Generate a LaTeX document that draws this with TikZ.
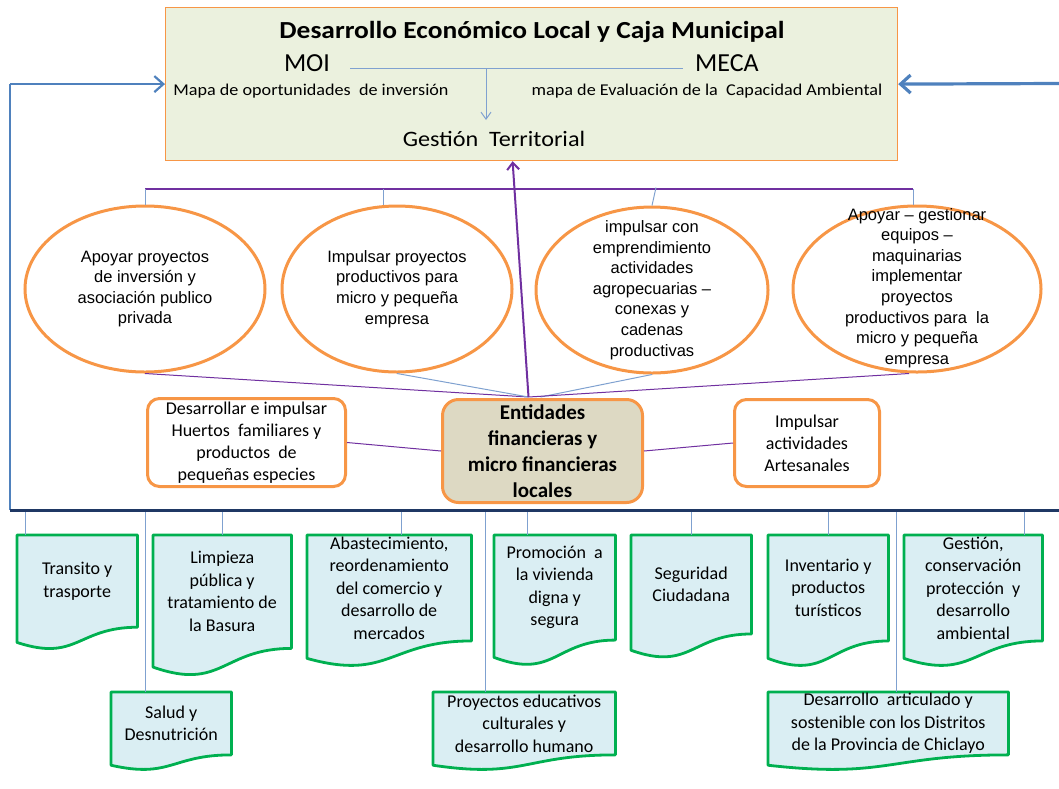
\documentclass[tikz,border=0pt]{standalone}
\usepackage{fontspec}
\setmainfont{Carlito}
\newfontfamily\calw[FakeStretch=1.1]{Carlito}
\newfontfamily\calt[FakeStretch=1.12]{Carlito}
\newfontfamily\arialf{Liberation Sans}
\usetikzlibrary{arrows.meta,calc,shapes.geometric}
\definecolor{topfill}{HTML}{EBF1DE}
\definecolor{orng}{HTML}{F79646}
\definecolor{blu}{HTML}{4F81BD}
\definecolor{lblu}{HTML}{7FA1D0}
\definecolor{purp}{HTML}{7030A0}
\definecolor{navy}{HTML}{1F3864}
\definecolor{docfill}{HTML}{DAEEF3}
\definecolor{docgreen}{HTML}{00B050}
\definecolor{entfill}{HTML}{DDD9C3}
\tikzset{
  topbox/.style={draw=orng, fill=topfill, line width=1.2, inner sep=0},
  ell/.style={ellipse, draw=orng, fill=white, line width=3, inner sep=0},
  elltext/.style={align=center, inner sep=0, font=\arialf\fontsize{16.5}{20.6}\selectfont},
  sidebox/.style={draw=orng, fill=white, line width=3, rounded corners=12, inner sep=0, align=center, font=\fontsize{18}{22}\selectfont},
  entbox/.style={draw=orng, fill=entfill, line width=3, rounded corners=16, inner sep=0, align=center, font=\bfseries\fontsize{21}{26}\selectfont},
  docframe/.style={inner sep=0, draw=none},
  docline/.style={fill=docfill, draw=docgreen, line width=2.8, line join=round},
  doctext/.style={align=center, inner sep=0, font=\fontsize{18}{22.5}\selectfont},
  dropline/.style={draw=lblu, line width=1},
  purpline/.style={draw=purp, line width=1},
  bluline/.style={draw=lblu, line width=1},
  busline/.style={draw=navy, line width=3},
  frameline/.style={draw=blu, line width=1.2},
  arrowline/.style={draw=blu, line width=2.2, -{Straight Barb[length=9,width=16,line width=2.2]}},
  bigarrow/.style={draw=blu, line width=3.2, -{Straight Barb[length=10,width=18,line width=3.2]}},
}
\newcommand\mydoc[6]{%
  \node[docframe, minimum width=#4, minimum height=#5, anchor=north west] (#1) at (#2,#3) {};
  \path[docline] (#1.north west) -- (#1.north east) -- ($(#1.north east)!0.802!(#1.south east)$)
     .. controls ($(#1.north)!0.802!(#1.south)$) and ($(#1.north)!1.107!(#1.south)$) ..
     ($(#1.north west)!0.934!(#1.south west)$) -- cycle;
  \node[doctext] at ($(#1.north)!0.40!(#1.south)$) {#6};
}
\newcommand\mydrop[2]{\draw[dropline] (#1.north west) ++(#2,0) coordinate (tmpd) -- (tmpd |- busL);}
\begin{document}
\begin{tikzpicture}[x=1pt,y=-1pt]
\useasboundingbox (0,0) rectangle (1059,788);
% top box
\node[topbox, minimum width=732, minimum height=153, anchor=north west] (top) at (165,7) {};
\node[anchor=base, inner sep=0, font=\calt\bfseries\fontsize{24.5}{29}\selectfont] (title) at (532,38) {Desarrollo Económico Local y Caja Municipal};
\node[anchor=base, inner sep=0, font=\fontsize{26}{30}\selectfont] (moi) at (307,71.5) {MOI};
\node[anchor=base, inner sep=0, font=\fontsize{26}{30}\selectfont] (meca) at (727,71.5) {MECA};
\node[anchor=base, inner sep=0, font=\calw\fontsize{16.5}{19}\selectfont] (mapa1) at (311,95.7) {Mapa de oportunidades\ \ de inversión};
\node[anchor=base, inner sep=0, font=\calw\fontsize{16.5}{19}\selectfont] (mapa2) at (707,95.7) {mapa de Evaluación de la\ \ Capacidad Ambiental};
\node[anchor=base, inner sep=0, font=\calw\fontsize{22}{26}\selectfont] (gest) at (494,146.7) {Gestión\ \ Territorial};
\coordinate (ml) at (350,68);
\coordinate (mr) at (683,68);
\coordinate (mm) at (486,68);
\draw[bluline] (ml) -- (mr);
\draw[bluline, -{Straight Barb[length=7,width=10]}] (mm) -- ++(0,52);
% frame and outer arrows
\coordinate (busL) at (10,510);
\coordinate (busR) at (1059,510);
\coordinate (rin) at (1059,83.5);
\draw[frameline] (busL) -- (busL |- top.west);
\draw[arrowline] (busL |- top.west) -- (top.west);
\draw[bigarrow] (rin) -- (top.east);
% ellipses
\node[ell, minimum width=240, minimum height=166] (e1) at (145,289) {};
\node[ell, minimum width=230, minimum height=166] (e2) at (397,289) {};
\node[ell, minimum width=232, minimum height=166] (e3) at (652,290) {};
\node[ell, minimum width=248, minimum height=166] (e4) at (917,289) {};
\node[elltext] (t1) at (e1) {Apoyar proyectos\\de inversión y\\asociación publico\\privada};
\node[elltext] (t2) at (e2) {Impulsar proyectos\\productivos para\\micro y pequeña\\empresa};
\node[elltext] (t3) at (e3) {impulsar con\\emprendimiento\\actividades\\agropecuarias –\\conexas y\\cadenas\\productivas};
\node[elltext] (t4) at ($(e4)+(0,-1)$) {Apoyar – gestionar\\equipos –\\maquinarias\\implementar\\proyectos\\productivos para\ \ la\\micro y pequeña\\empresa};
% bracket over ellipses
\coordinate (b1) at (145,189);
\coordinate (b4) at (913,189);
\draw[purpline, line width=1.6] (b1) -- (b4);
\draw[dropline] (e1.north) -- (e1.north |- b1);
\draw[dropline] (e2.north) ++(-14,0) coordinate (tmpe) -- (tmpe |- b1);
\draw[dropline] (e3.north) -- ++(4,-18);
\draw[dropline] (e4.north) ++(-4,0) coordinate (tmpf) -- (tmpf |- b1);
% central node and side boxes
\node[entbox, minimum width=200, minimum height=103, anchor=north west] (ent) at (441,398) {Entidades\\financieras y\\micro financieras\\locales};
\node[sidebox, minimum width=198, minimum height=88, anchor=north west] (sl) at (146,397) {Desarrollar e impulsar\\Huertos\ \ familiares y\\productos\ \ de\\pequeñas especies};
\node[sidebox, minimum width=145, minimum height=87, anchor=north west] (sr) at (733,398) {Impulsar\\actividades\\Artesanales};
\coordinate (entTop) at ($(ent.north)+(-14,-1)$);
\coordinate (entTop2) at ($(ent.north)+(-2,-1)$);
\draw[purpline] (e1.south) -- (entTop);
\draw[bluline] (e2.south) -- (entTop);
\draw[bluline] (e3.south) -- (entTop2);
\draw[purpline] ($(e4.south)+(-8,0)$) -- (entTop);
\draw[purpline, line width=2, -{Straight Barb[length=7,width=12,line width=2]}] (entTop) -- ($(top.south)+(-19,0)$);
\draw[purpline] (sl.east) -- (ent.west);
\draw[purpline] (ent.east) -- (sr.west);
% documents
\mydoc{d1}{17}{535}{120}{114.6}{Transito y\\trasporte}
\mydoc{d2}{153}{535}{138}{141}{Limpieza\\pública y\\tratamiento de\\la Basura}
\mydoc{d3}{307}{535}{164}{131.7}{Abastecimiento,\\reordenamiento\\del comercio y\\desarrollo de\\mercados}
\mydoc{d4}{494}{535}{121}{130.6}{Promoción\ \ a\\la vivienda\\digna y\\segura}
\mydoc{d5}{631}{535}{120}{123}{Seguridad\\Ciudadana}
\mydoc{d6}{768}{535}{120}{131.7}{Inventario y\\productos\\turísticos}
\mydoc{d7}{904}{535}{138}{131.7}{Gestión,\\conservación\\protección\ \ y\\desarrollo\\ambiental}
\mydoc{d8}{111}{692}{120}{78}{Salud y\\Desnutrición}
\mydoc{d9}{433}{692}{182}{78}{Proyectos educativos\\culturales y\\desarrollo humano}
\mydoc{d10}{768}{692}{240}{78}{Desarrollo\ \ articulado y\\sostenible con los Distritos\\de la Provincia de Chiclayo}
\mydrop{d1}{8}
\mydrop{d2}{69}
\mydrop{d3}{94}
\mydrop{d4}{33}
\mydrop{d5}{60}
\mydrop{d6}{60}
\mydrop{d7}{120}
\mydrop{d8}{34}
\mydrop{d9}{52}
\mydrop{d10}{128}
\draw[busline] (busL) -- (busR);
\end{tikzpicture}
\end{document}
